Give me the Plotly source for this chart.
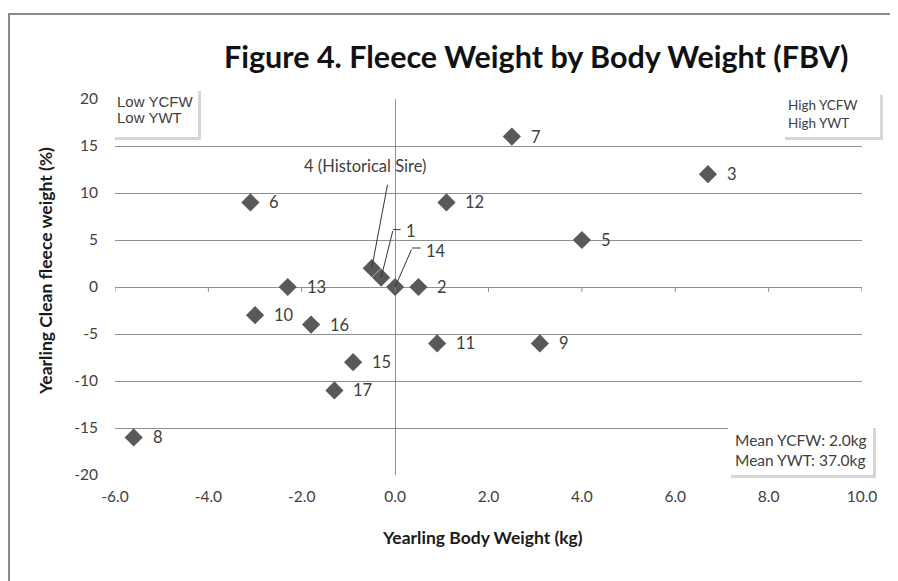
import plotly.graph_objects as go

# ---- data ----
sire_ids = ["1", "2", "3", "4", "5", "6", "7", "8", "9", "10", "11", "12", "13", "14", "15", "16", "17"]
body_weight = [-0.3, 0.5, 6.7, -0.5, 4.0, -3.1, 2.5, -5.6, 3.1, -3.0, 0.9, 1.1, -2.3, 0.0, -0.9, -1.8, -1.3]
fleece_weight = [1, 0, 12, 2, 5, 9, 16, -16, -6, -3, -6, 9, 0, 0, -8, -4, -11]
historical_sire = "4"
x_ticks = [-6, -4, -2, 0, 2, 4, 6, 8, 10]
x_tick_text = ["-6.0", "-4.0", "-2.0", "0.0", "2.0", "4.0", "6.0", "8.0", "10.0"]
y_ticks = [-20, -15, -10, -5, 0, 5, 10, 15, 20]
y_tick_text = ["-20", "-15", "-10", "-5", "0", "5", "10", "15", "20"]

# page has an 8px body margin; figure sized to fill the rest of the window
OFF = 8
W, H = 898 - OFF, 581 - OFF
L, R, T, B = 107, 36, 91, 106
PW, PH = W - L - R, H - T - B

def px(xp):  # page pixel -> paper x
    return (xp - OFF - L) / PW

def py(yp):  # page pixel -> paper y
    return (H - B - (yp - OFF)) / PH

TXT = "#404040"
GRID = "#8f8f8f"
FONT = "Lato"

fig = go.Figure()
fig.add_trace(go.Scatter(
    x=body_weight, y=fleece_weight, mode="markers",
    marker=dict(symbol="diamond", size=14, color="#595959"),
    hoverinfo="skip", showlegend=False,
))

annotations = []
leader = {
    # id: (label offset x, y, tail ax, ay, horizontal seg length)
    "4": (-7, -102, 16, -85, 0),
    "1": (30, -47, 12, -48, 9),
    "14": (41, -36, 17, -39, 10),
}
LBL = dict(family=FONT, size=16.5, color=TXT)
for sid, xv, yv in zip(sire_ids, body_weight, fleece_weight):
    label = sid + " (Historical Sire)" if sid == historical_sire else sid
    if sid in leader:
        lx, ly, ax, ay, hl = leader[sid]
        annotations.append(dict(x=xv, y=yv, xref="x", yref="y", text=label, showarrow=False,
                                xanchor="center", yanchor="middle",
                                xshift=lx, yshift=-ly, font=LBL))
        annotations.append(dict(x=xv, y=yv, xref="x", yref="y", text="", showarrow=True,
                                arrowhead=0, arrowwidth=1, arrowcolor="#333333",
                                ax=ax, ay=ay, axref="pixel", ayref="pixel", standoff=0))
        if hl:
            annotations.append(dict(x=xv, y=yv, xref="x", yref="y", text="", showarrow=True,
                                    arrowhead=0, arrowwidth=1, arrowcolor="#333333",
                                    ax=hl, ay=0, xshift=ax, yshift=-ay, standoff=0))
    else:
        annotations.append(dict(x=xv, y=yv, xref="x", yref="y", text=label, showarrow=False,
                                xanchor="left", yanchor="middle", xshift=17, font=LBL))

# title and axis titles
annotations.append(dict(x=px(536), y=py(56), xref="paper", yref="paper", showarrow=False,
                        xanchor="center", yanchor="middle",
                        text="<b>Figure 4. Fleece Weight by Body Weight (FBV)</b>",
                        font=dict(family=FONT, size=30.5, color="#111111")))
annotations.append(dict(x=px(482), y=py(537), xref="paper", yref="paper", showarrow=False,
                        xanchor="center", yanchor="middle",
                        text="<b>Yearling Body Weight (kg)</b>",
                        font=dict(family=FONT, size=17.5, color="#1a1a1a")))
annotations.append(dict(x=px(45), y=py(271), xref="paper", yref="paper", showarrow=False,
                        xanchor="center", yanchor="middle",
                        text="<b>Yearling Clean fleece weight (%)</b>", textangle=-90,
                        font=dict(family=FONT, size=17.5, color="#1a1a1a")))

shapes = []
# outer chart border
shapes.append(dict(type="rect", xref="paper", yref="paper", x0=px(9), x1=px(896), y0=py(640), y1=py(14),
                   line=dict(color="#8a8a8a", width=2), fillcolor="rgba(0,0,0,0)", layer="below"))

# quadrant boxes (page pixel positions)
boxes = [
    (112, 198, 88, 137, ["Low YCFW", "Low YWT"], [101, 117], 115, "Liberation Sans", 15),
    (782, 880, 92, 137, ["High YCFW", "High YWT"], [105, 123], 786, FONT, 13.5),
    (728, 873, 425, 475, ["Mean YCFW: 2.0kg", "Mean YWT: 37.0kg"], [440, 460], 733, FONT, 15.5),
]
for x0, x1, y0, y1, lines, ys, tx, fam, fs in boxes:
    shapes.append(dict(type="rect", xref="paper", yref="paper",
                       x0=px(x0 + 3), x1=px(x1 + 3), y0=py(y1 + 3), y1=py(y0 + 3),
                       line=dict(width=0), fillcolor="rgba(0,0,0,0.16)", layer="above"))
    shapes.append(dict(type="rect", xref="paper", yref="paper",
                       x0=px(x0), x1=px(x1), y0=py(y1), y1=py(y0),
                       line=dict(width=0), fillcolor="white", layer="above"))
    for ln, yy in zip(lines, ys):
        annotations.append(dict(x=px(tx), y=py(yy), xref="paper", yref="paper", showarrow=False,
                                xanchor="left", yanchor="middle", text=ln,
                                font=dict(family=fam, size=fs, color=TXT)))

# tick marks on the horizontal axis (crossing at y = 0)
for t in x_ticks:
    shapes.append(dict(type="line", xref="x", yref="y", x0=t, x1=t, ysizemode="pixel",
                       yanchor=0, y0=0, y1=-5, line=dict(color=GRID, width=1)))

fig.update_layout(
    width=W, height=H,
    margin=dict(l=L, r=R, t=T, b=B, pad=0),
    paper_bgcolor="white", plot_bgcolor="white",
    showlegend=False,
    annotations=annotations, shapes=shapes,
    xaxis=dict(range=[-6, 10], tickvals=x_ticks, ticktext=x_tick_text, showgrid=False,
               zeroline=True, zerolinecolor=GRID, zerolinewidth=1, showline=False,
               ticks="outside", ticklen=7, tickcolor="rgba(0,0,0,0)",
               tickfont=dict(family=FONT, size=15.5, color=TXT), fixedrange=True),
    yaxis=dict(range=[-20, 20], tickvals=y_ticks, ticktext=y_tick_text, showgrid=True,
               gridcolor=GRID, gridwidth=1,
               zeroline=True, zerolinecolor=GRID, zerolinewidth=1, showline=False,
               ticks="outside", ticklen=13, tickcolor="rgba(0,0,0,0)",
               tickfont=dict(family=FONT, size=15.5, color=TXT), fixedrange=True),
)

fig.write_html("out.html")
